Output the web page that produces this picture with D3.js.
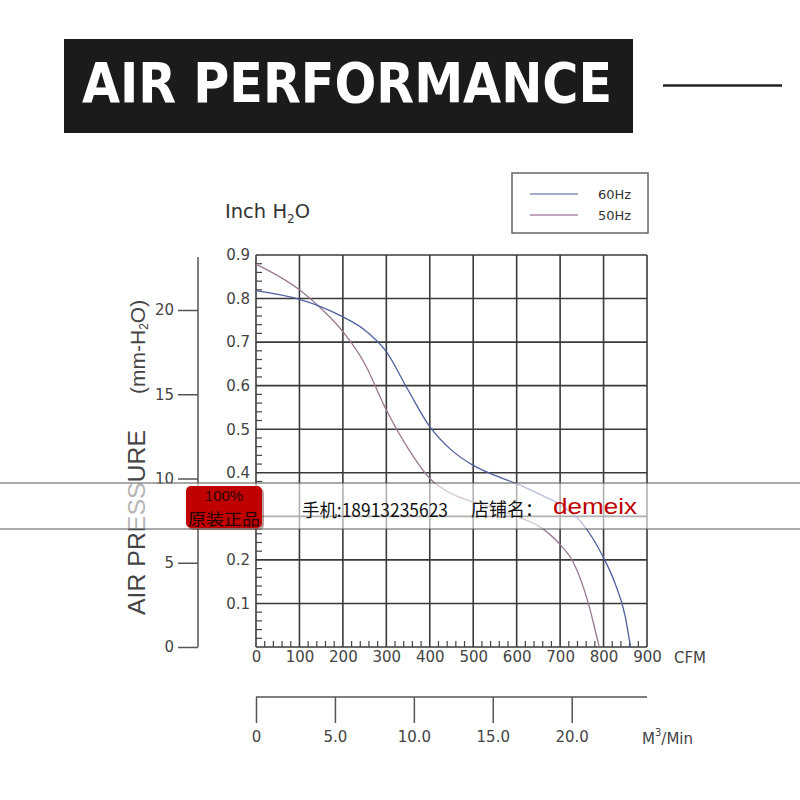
<!DOCTYPE html>
<html><head><meta charset="utf-8">
<script src="https://cdn.jsdelivr.net/npm/d3@7"></script>
<style>body{margin:0;background:#fff}</style>
</head><body>
<svg id="c" width="800" height="800"></svg>
<script>
// ---- data ----
const cfm60 = [0, 100, 150, 200, 250, 300, 350, 400, 450, 500, 550, 600, 650, 700, 750, 800, 825, 850, 862];
const pres60 = [0.818, 0.798, 0.781, 0.758, 0.728, 0.678, 0.590, 0.506, 0.452, 0.417, 0.394, 0.375, 0.352, 0.327, 0.285, 0.205, 0.150, 0.070, 0];
const cfm50 = [0, 100, 150, 200, 250, 300, 350, 400, 450, 500, 550, 600, 650, 700, 730, 765, 778, 790];
const pres50 = [0.879, 0.820, 0.777, 0.724, 0.651, 0.544, 0.456, 0.387, 0.352, 0.333, 0.318, 0.299, 0.278, 0.235, 0.195, 0.100, 0.050, 0];
const seriesNames = ["60Hz", "50Hz"];
const cfmTicks = [0, 100, 200, 300, 400, 500, 600, 700, 800, 900];
const inchTicks = [0.1, 0.2, 0.3, 0.4, 0.5, 0.6, 0.7, 0.8, 0.9];
const mmTicks = [0, 5, 10, 15, 20];
const m3Ticks = [0, 5, 10, 15, 20];

const svg = d3.select("#c");
const font = "'DejaVu Sans', Verdana, sans-serif";
const col60 = "#4f5f9c", col50 = "#9a7890";

const x = d3.scaleLinear([0, 900], [256, 647]);
const y = d3.scaleLinear([0, 0.9], [647, 255]);
const yMM = d3.scaleLinear([0, 20], [647, 310]);
const xM3 = d3.scaleLinear([0, 20], [256, 571.7]);

// ---- title ----
svg.append("rect").attr("x", 64).attr("y", 39).attr("width", 569).attr("height", 94).attr("fill", "#1c1a1a");
svg.append("text").attr("x", 82).attr("y", 102).attr("fill", "#fff")
  .attr("font-family", "'Liberation Sans Narrow', 'DejaVu Sans Condensed', sans-serif")
  .attr("font-weight", "bold").attr("font-size", 56)
  .attr("textLength", 530).attr("lengthAdjust", "spacingAndGlyphs").text("AIR PERFORMANCE");
svg.append("line").attr("x1", 663).attr("x2", 782).attr("y1", 85.5).attr("y2", 85.5).attr("stroke", "#222").attr("stroke-width", 2.5);

// ---- grid ----
const g = svg.append("g");
g.selectAll("line.v").data(cfmTicks).join("line").attr("class", "v")
  .attr("x1", d => x(d)).attr("x2", d => x(d)).attr("y1", y(0.9)).attr("y2", y(0))
  .attr("stroke", "#3a3a3a").attr("stroke-width", 1.6);
g.selectAll("line.h").data([0].concat(inchTicks)).join("line").attr("class", "h")
  .attr("x1", x(0)).attr("x2", x(900)).attr("y1", d => y(d)).attr("y2", d => y(d))
  .attr("stroke", "#3a3a3a").attr("stroke-width", 1.6);

// minor ticks
const minorY = d3.range(0, 0.9, 0.02).filter((d, i) => i % 5 !== 0);
g.selectAll("line.my").data(minorY).join("line").attr("class", "my")
  .attr("x1", x(0)).attr("x2", x(0) + 6).attr("y1", d => y(d)).attr("y2", d => y(d))
  .attr("stroke", "#444").attr("stroke-width", 1.2);
const minorX = d3.range(0, 900, 20).filter((d, i) => i % 5 !== 0);
g.selectAll("line.mx").data(minorX).join("line").attr("class", "mx")
  .attr("x1", d => x(d)).attr("x2", d => x(d)).attr("y1", y(0)).attr("y2", y(0) - 6)
  .attr("stroke", "#444").attr("stroke-width", 1.2);

// ---- curves ----
const line = d3.line().x(d => x(d[0])).y(d => y(d[1])).curve(d3.curveMonotoneX);
svg.append("path").datum(cfm50.map((c, i) => [c, pres50[i]]))
  .attr("d", line).attr("fill", "none").attr("stroke", col50).attr("stroke-width", 1.3);
svg.append("path").datum(cfm60.map((c, i) => [c, pres60[i]]))
  .attr("d", line).attr("fill", "none").attr("stroke", col60).attr("stroke-width", 1.3);

// ---- axes ----
// the 0.3 label is hidden under the badge in the reference
const yAx = svg.append("g").attr("transform", `translate(${x(0)},0)`)
  .call(d3.axisLeft(y).tickValues(inchTicks.filter(d => d !== 0.3)).tickSize(0).tickPadding(6).tickFormat(d3.format(".1f")));
yAx.select(".domain").remove();
yAx.selectAll("text").attr("font-family", font).attr("font-size", 15).attr("fill", "#444");

const xAx = svg.append("g").attr("transform", `translate(0,${y(0)})`)
  .call(d3.axisBottom(x).tickValues(cfmTicks).tickSize(0).tickPadding(4).tickFormat(d3.format("d")));
xAx.select(".domain").remove();
xAx.selectAll("text").attr("font-family", font).attr("font-size", 15).attr("fill", "#444");
svg.append("text").attr("x", 674).attr("y", 663).attr("font-family", font).attr("font-size", 15)
  .attr("fill", "#444").text("CFM");

// mm-H2O axis
const mmAx = svg.append("g").attr("transform", "translate(198,0)")
  .call(d3.axisLeft(yMM).tickValues(mmTicks).tickSize(20).tickPadding(4));
mmAx.select(".domain").remove();
mmAx.selectAll("line").attr("stroke", "#555").attr("stroke-width", 1.5);
mmAx.selectAll("text").attr("font-family", font).attr("font-size", 15).attr("fill", "#444");
svg.append("line").attr("x1", 198).attr("x2", 198).attr("y1", 257).attr("y2", 647)
  .attr("stroke", "#555").attr("stroke-width", 1.5);

// M3/min axis
const m3Ax = svg.append("g").attr("transform", "translate(0,697)")
  .call(d3.axisBottom(xM3).tickValues(m3Ticks).tickSize(26).tickPadding(8)
    .tickFormat(d => d === 0 ? "0" : d3.format(".1f")(d)));
m3Ax.select(".domain").remove();
m3Ax.selectAll("line").attr("stroke", "#555").attr("stroke-width", 1.5);
m3Ax.selectAll("text").attr("font-family", font).attr("font-size", 15).attr("fill", "#444");
svg.append("line").attr("x1", 256).attr("x2", 647).attr("y1", 697).attr("y2", 697)
  .attr("stroke", "#555").attr("stroke-width", 1.5);
const m3 = svg.append("text").attr("x", 642).attr("y", 744).attr("font-family", font)
  .attr("font-size", 15).attr("fill", "#444");
m3.append("tspan").text("M");
m3.append("tspan").attr("dy", -8).attr("font-size", 10).text("3");
m3.append("tspan").attr("dy", 8).text("/Min");

// ---- axis titles ----
const ih = svg.append("text").attr("x", 225).attr("y", 218).attr("font-family", font)
  .attr("font-size", 19.5).attr("fill", "#333");
ih.append("tspan").text("Inch H");
ih.append("tspan").attr("dy", 5).attr("font-size", 12).text("2");
ih.append("tspan").attr("dy", -5).text("O");

svg.append("text").attr("transform", "translate(145,615) rotate(-90)")
  .attr("font-family", "'Liberation Sans', Arial, sans-serif").attr("font-size", 24).attr("fill", "#444")
  .attr("textLength", 185).attr("lengthAdjust", "spacingAndGlyphs").text("AIR PRESSURE");
const mm = svg.append("text").attr("transform", "translate(145,394) rotate(-90)")
  .attr("font-family", "'Liberation Sans', Arial, sans-serif").attr("font-size", 21).attr("fill", "#444");
mm.append("tspan").text("(mm-H");
mm.append("tspan").attr("dy", 3).attr("font-size", 12).text("2");
mm.append("tspan").attr("dy", -3).text("O)");

// ---- legend ----
svg.append("rect").attr("x", 512).attr("y", 173).attr("width", 136).attr("height", 60)
  .attr("fill", "#fff").attr("stroke", "#666").attr("stroke-width", 1.5);
const lg = svg.append("g").selectAll("g").data(seriesNames).join("g")
  .attr("transform", (d, i) => `translate(0,${194 + i * 21})`);
lg.append("line").attr("x1", 530).attr("x2", 578).attr("stroke", (d, i) => i ? "#b08aa8" : "#8090b8").attr("stroke-width", 1.3);
lg.append("text").attr("x", 598).attr("dy", "0.35em").attr("font-family", font).attr("font-size", 13)
  .attr("fill", "#333").text(d => d);

// ---- watermark band ----
svg.append("rect").attr("x", 0).attr("y", 483).attr("width", 800).attr("height", 46)
  .attr("fill", "#fff").attr("fill-opacity", 0.6);
[483, 529].forEach(v => svg.append("line").attr("x1", 0).attr("x2", 800).attr("y1", v).attr("y2", v)
  .attr("stroke", "#555").attr("stroke-width", 1));
svg.append("rect").attr("x", 188).attr("y", 488).attr("width", 76).attr("height", 42).attr("rx", 5)
  .attr("fill", "#5a1010").attr("opacity", 0.4);
svg.append("rect").attr("x", 186).attr("y", 486).attr("width", 76).attr("height", 42).attr("rx", 5)
  .attr("fill", "#c00000");
svg.append("text").attr("x", 224).attr("y", 501).attr("text-anchor", "middle")
  .attr("font-family", "'Liberation Sans', Arial, sans-serif").attr("font-size", 15).attr("fill", "#2a0000").text("100%");
svg.append("text").attr("x", 224).attr("y", 525).attr("text-anchor", "middle")
  .attr("font-family", "'Noto Sans CJK SC', sans-serif").attr("font-size", 16).attr("fill", "#2a0000")
  .attr("textLength", 72).attr("lengthAdjust", "spacingAndGlyphs").text("原装正品");
svg.append("text").attr("x", 302).attr("y", 517).attr("font-family", "'Noto Sans CJK SC', sans-serif")
  .attr("font-size", 18).attr("fill", "#111").attr("textLength", 146).attr("lengthAdjust", "spacingAndGlyphs")
  .text("手机:18913235623");
svg.append("text").attr("x", 471).attr("y", 516).attr("font-family", "'Noto Sans CJK SC', sans-serif")
  .attr("font-size", 18).attr("fill", "#111").text("店铺名：");
svg.append("text").attr("x", 553).attr("y", 514).attr("font-family", "'Liberation Sans', Arial, sans-serif")
  .attr("font-size", 22).attr("fill", "#c00000").attr("textLength", 84).attr("lengthAdjust", "spacingAndGlyphs").text("demeix");
</script>
</body></html>
